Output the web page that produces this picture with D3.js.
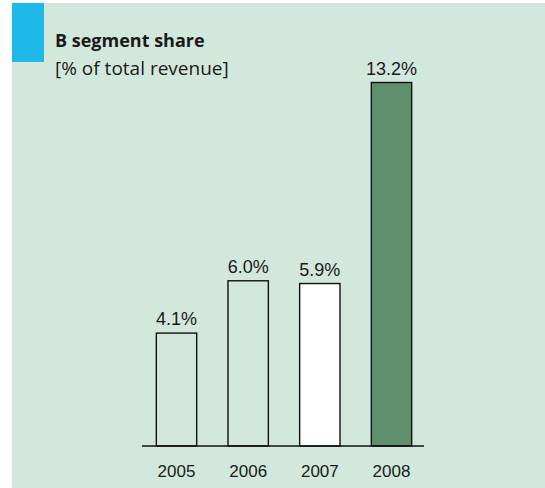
<!DOCTYPE html>
<html>
<head>
<meta charset="utf-8">
<script src="https://cdn.jsdelivr.net/npm/d3@7"></script>
<style>
  html, body { margin: 0; padding: 0; background: #ffffff; }
  svg { display: block; }
</style>
</head>
<body>
<svg id="chart" width="545" height="488"></svg>
<script>
// Share of total revenue by year, in percent
const years = ["2005", "2006", "2007", "2008"];
const shares = [4.1, 6.0, 5.9, 13.2];
const valueLabels = ["4.1%", "6.0%", "5.9%", "13.2%"];
const barFills = ["none", "none", "#ffffff", "#5f8f6c"];

const svg = d3.select("#chart");

// panel background
svg.append("rect")
  .attr("x", 12).attr("y", 3)
  .attr("width", 533).attr("height", 485)
  .attr("fill", "#d3e8dc");

// blue corner marker
svg.append("rect")
  .attr("x", 12).attr("y", 3)
  .attr("width", 32).attr("height", 59)
  .attr("fill", "#1fb9e9");

// title block
svg.append("text")
  .attr("x", 55).attr("y", 47)
  .attr("font-family", "'Open Sans', 'Noto Sans', sans-serif")
  .attr("font-weight", 700)
  .attr("font-size", 18)
  .attr("fill", "#1a1a1a")
  .text("B segment share");

svg.append("text")
  .attr("x", 55).attr("y", 75)
  .attr("font-family", "'Open Sans', 'Noto Sans', sans-serif")
  .attr("font-size", 19)
  .attr("fill", "#1a1a1a")
  .text("[% of total revenue]");

// scales
const x = d3.scaleBand()
  .domain(years)
  .range([142, 426])
  .paddingInner(0.437)
  .paddingOuter(0.2);

const y = d3.scaleLinear()
  .domain([0, 13.2])
  .range([446, 82.5]);

const data = years.map((yr, i) => ({ year: yr, value: shares[i], label: valueLabels[i], fill: barFills[i] }));

// bars
svg.append("g")
  .selectAll("rect")
  .data(data)
  .join("rect")
  .attr("x", d => x(d.year))
  .attr("y", d => y(d.value))
  .attr("width", x.bandwidth())
  .attr("height", d => y(0) - y(d.value))
  .attr("fill", d => d.fill)
  .attr("stroke", "#111111")
  .attr("stroke-width", 1.4);

// value labels
svg.append("g")
  .selectAll("text")
  .data(data)
  .join("text")
  .attr("x", d => x(d.year) + x.bandwidth() / 2)
  .attr("y", d => y(d.value) - 8)
  .attr("text-anchor", "middle")
  .attr("font-family", "'Liberation Sans', Arial, sans-serif")
  .attr("font-size", 18)
  .attr("fill", "#1a1a1a")
  .text(d => d.label);

// x axis
const xAxis = svg.append("g")
  .attr("transform", `translate(0,${y(0)})`)
  .call(d3.axisBottom(x).tickSize(0).tickPadding(19));

xAxis.select(".domain")
  .attr("d", `M142,0H424`)
  .attr("stroke", "#111111")
  .attr("stroke-width", 1.4);

xAxis.selectAll(".tick text")
  .attr("font-family", "'Liberation Sans', Arial, sans-serif")
  .attr("font-size", 17)
  .attr("fill", "#1a1a1a");
</script>
</body>
</html>
